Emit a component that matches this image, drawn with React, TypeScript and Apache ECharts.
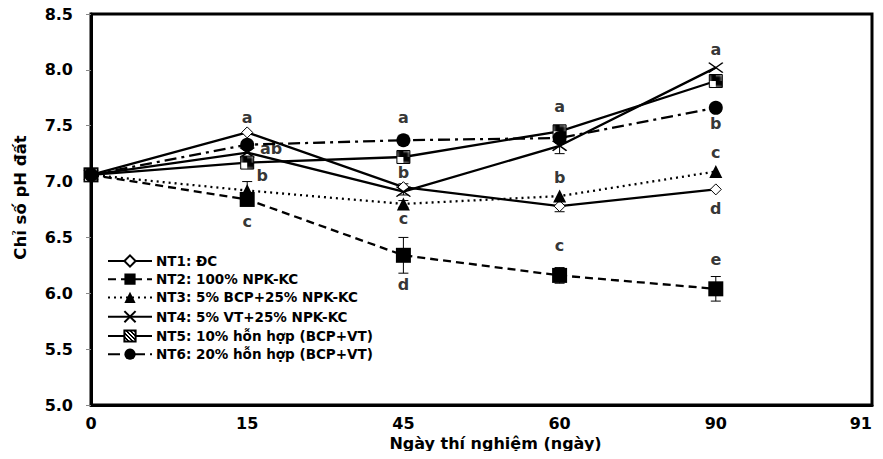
import React, { useEffect, useRef } from "react";
import * as echarts from "echarts";

const categories = ["0", "15", "45", "60", "90", "91"];
const seriesNames = [
  "NT1: ĐC",
  "NT2: 100% NPK-KC",
  "NT3: 5% BCP+25% NPK-KC",
  "NT4: 5% VT+25% NPK-KC",
  "NT5: 10% hỗn hợp (BCP+VT)",
  "NT6: 20% hỗn hợp (BCP+VT)",
];
const nt1 = [7.06, 7.44, 6.95, 6.78, 6.93];
const nt2 = [7.06, 6.84, 6.34, 6.16, 6.04];
const nt3 = [7.06, 6.92, 6.8, 6.87, 7.09];
const nt4 = [7.06, 7.26, 6.91, 7.32, 8.02];
const nt5 = [7.06, 7.17, 7.22, 7.45, 7.9];
const nt6 = [7.06, 7.33, 7.37, 7.39, 7.66];
const err1 = [0, 0, 0.03, 0.05, 0];
const err2 = [0, 0.03, 0.16, 0.07, 0.11];
const err3 = [0, 0.08, 0.03, 0, 0];
const err4 = [0, 0, 0.03, 0.07, 0];
const err5 = [0, 0.04, 0, 0, 0];
const err6 = [0, 0, 0, 0, 0];
const yTicks = { min: 5.0, max: 8.5, interval: 0.5 };
// significance letters: [category, value, letter, shifted right]
const letters: [string, number, string, boolean][] = [
  ["15", 7.57, "a", false],
  ["15", 7.3, "ab", true],
  ["15", 7.05, "b", true],
  ["15", 6.64, "c", false],
  ["45", 7.57, "a", false],
  ["45", 7.08, "b", false],
  ["45", 6.67, "c", false],
  ["45", 6.08, "d", false],
  ["60", 7.67, "a", false],
  ["60", 7.04, "b", false],
  ["60", 6.43, "c", false],
  ["90", 8.18, "a", false],
  ["90", 7.52, "b", false],
  ["90", 7.26, "c", false],
  ["90", 6.76, "d", false],
  ["90", 6.3, "e", false],
];

const FONT = "'DejaVu Sans', sans-serif";

function makeHatch(): any {
  const c = document.createElement("canvas");
  c.width = 4;
  c.height = 4;
  const ctx = c.getContext("2d")!;
  ctx.fillStyle = "#ffffff";
  ctx.fillRect(0, 0, 4, 4);
  ctx.fillStyle = "#000000";
  for (let i = 0; i < 4; i++) {
    ctx.fillRect(i, i, 1, 1);
    ctx.fillRect((i + 1) % 4, i, 1, 1);
  }
  return { image: c, repeat: "repeat" };
}

export default function App() {
  const ref = useRef<HTMLDivElement>(null);
  useEffect(() => {
    const chart = echarts.init(ref.current!, null, { renderer: "svg" });
    const hatch = makeHatch();
    const values = [nt1, nt2, nt3, nt4, nt5, nt6];
    const errs = [err1, err2, err3, err4, err5, err6];
    const styles: any[] = [
      { line: "solid", symbol: "diamond", size: 11, fill: "#ffffff", border: "#000", bw: 1 },
      { line: [8, 5], symbol: "rect", size: 15, fill: "#000", border: "#000", bw: 0 },
      { line: [2, 4], symbol: "triangle", size: 13, fill: "#000", border: "#000", bw: 0 },
      { line: "solid", symbol: "path://M0,0L10,7M10,0L0,7", size: [14, 10], fill: "none", border: "#000", bw: 1.5 },
      { line: "solid", symbol: "rect", size: 13, fill: hatch, border: "#000", bw: 1 },
      { line: [12, 5, 3, 5], symbol: "circle", size: 14, fill: "#000", border: "#000", bw: 0 },
    ];
    const lineSeries = values.map((v, i) => ({
      name: seriesNames[i],
      type: "line",
      data: v,
      symbol: styles[i].symbol,
      symbolSize: styles[i].size,
      z: 3,
      lineStyle: { color: "#000", width: 2.3, type: styles[i].line },
      itemStyle: { color: styles[i].fill, borderColor: styles[i].border, borderWidth: styles[i].bw },
    }));
    const errData: number[][] = [];
    values.forEach((v, i) =>
      v.forEach((val, j) => {
        if (errs[i][j] > 0) errData.push([j, val - errs[i][j], val + errs[i][j]]);
      })
    );
    const errSeries = {
      type: "custom",
      z: 2,
      data: errData,
      renderItem: (params: any, api: any) => {
        const x = api.value(0);
        const lo = api.coord([x, api.value(1)]);
        const hi = api.coord([x, api.value(2)]);
        const w = 5;
        const st = { stroke: "#000", lineWidth: 1 };
        return {
          type: "group",
          children: [
            { type: "line", shape: { x1: lo[0], y1: lo[1], x2: hi[0], y2: hi[1] }, style: st },
            { type: "line", shape: { x1: lo[0] - w, y1: lo[1], x2: lo[0] + w, y2: lo[1] }, style: st },
            { type: "line", shape: { x1: hi[0] - w, y1: hi[1], x2: hi[0] + w, y2: hi[1] }, style: st },
          ],
        };
      },
    };
    const letterSeries = {
      type: "scatter",
      symbolSize: 0,
      z: 5,
      silent: true,
      data: letters.map((l) => ({
        value: [l[0], l[1]],
        label: {
          show: true,
          position: "inside",
          formatter: l[2],
          offset: [l[3] ? (l[2].length > 1 ? 24 : 15) : 0, 0],
          color: "#000",
          fontSize: 16,
          fontWeight: "bold",
          fontFamily: FONT,
        },
      })),
    };
    const labelStyle = { fontFamily: FONT, fontWeight: "bold", fontSize: 16, color: "#000" };
    chart.setOption({
      animation: false,
      grid: {
        left: 91,
        right: 11,
        top: 14,
        bottom: 54,
        show: true,
        borderColor: "#000",
        borderWidth: 3,
      },
      legend: {
        orient: "vertical",
        left: 102,
        top: 249,
        itemWidth: 44,
        itemHeight: 14,
        itemGap: 4.2,
        data: seriesNames,
        textStyle: { fontFamily: FONT, fontWeight: "bold", fontSize: 13.5, color: "#000", padding: [0, 0, 0, -1] },
      },
      xAxis: {
        type: "category",
        data: categories,
        boundaryGap: false,
        name: "Ngày thí nghiệm (ngày)",
        nameLocation: "middle",
        nameGap: 25,
        nameTextStyle: { fontFamily: FONT, fontWeight: "bold", fontSize: 16, color: "#000", padding: [0, 0, 0, 28] },
        axisLine: { lineStyle: { color: "#000", width: 3 } },
        axisTick: { show: false },
        axisLabel: { ...labelStyle, margin: 10, alignMaxLabel: "right" },
        splitLine: { show: false },
      },
      yAxis: {
        type: "value",
        min: yTicks.min,
        max: yTicks.max,
        interval: yTicks.interval,
        name: "Chỉ số pH đất",
        nameLocation: "middle",
        nameGap: 62,
        nameTextStyle: { fontFamily: FONT, fontWeight: "bold", fontSize: 16.5, color: "#000", padding: [0, 0, 0, 24] },
        axisLine: { show: true, lineStyle: { color: "#000", width: 3 } },
        axisTick: { show: true, length: 5, lineStyle: { color: "#888", width: 1 } },
        axisLabel: {
          ...labelStyle,
          margin: 18,
          formatter: (v: number) => v.toFixed(1),
        },
        splitLine: { show: false },
      },
      series: [...lineSeries, errSeries, letterSeries],
    });
    return () => chart.dispose();
  }, []);
  return <div ref={ref} style={{ width: 883, height: 459, margin: -8 }} />;
}
